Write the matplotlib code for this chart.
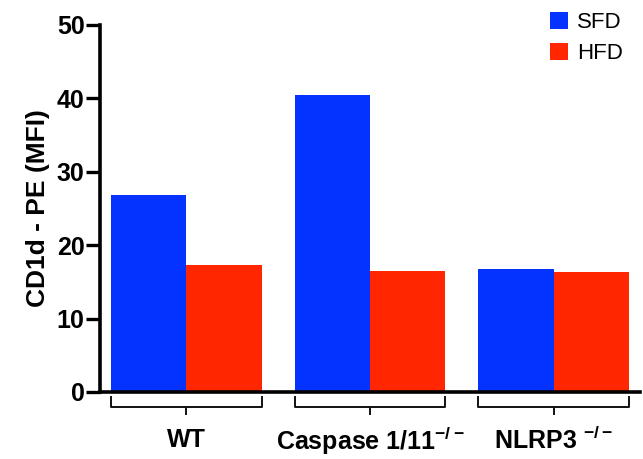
# imports
import numpy as np
import matplotlib
matplotlib.use("Agg")
import matplotlib.pyplot as plt

# data
groups = ["WT", "Caspase 1/11", "NLRP3 "]
sfd = [26.8, 40.4, 16.8]
hfd = [17.3, 16.5, 16.4]
series_names = ["SFD", "HFD"]
yticks = [0, 10, 20, 30, 40, 50]

plt.rcParams['font.family'] = ['Liberation Sans', 'DejaVu Sans']

fig = plt.figure(figsize=(6.43, 4.59), dpi=100)
ax = fig.add_axes([0.1555, 0.146, 0.84, 0.80])

x = np.arange(len(groups))
w = 0.41
ax.bar(x - w / 2, sfd, w, color="#0433FF", label=series_names[0])
ax.bar(x + w / 2, hfd, w, color="#FF2600", label=series_names[1])

ax.set_xlim(-0.47, 2.47)
ax.set_ylim(0, 50)
ax.set_yticks(yticks)
ax.tick_params(axis="y", width=2.4, length=10, labelsize=18, pad=1)
for lab in ax.get_yticklabels():
    lab.set_fontweight("bold")
ax.set_xticks([])

for side in ["top", "right"]:
    ax.spines[side].set_visible(False)
ax.spines["left"].set_linewidth(2.6)
ax.spines["bottom"].set_linewidth(2.6)

ax.set_ylabel("CD1d - PE (MFI)", fontsize=19, fontweight="bold", labelpad=5)

# group brackets under the axis
for xi, name in zip(x, groups):
    l, r = xi - w, xi + w
    ax.plot([l, l, r, r], [-0.7, -2.0, -2.0, -0.7], color="#111111", lw=1.4, clip_on=False)
    ax.plot([xi, xi], [-2.0, -3.0], color="#111111", lw=1.4, clip_on=False)

ax.text(x[0], -6.6, groups[0], ha="center", va="center", fontsize=18, fontweight="bold")
ax.text(x[1], -6.6, groups[1] + r"$^{\mathregular{-/-}}$", ha="center", va="center",
        fontsize=18, fontweight="bold")
ax.text(x[2], -6.6, groups[2] + r"$^{\mathregular{-/-}}$", ha="center", va="center",
        fontsize=18, fontweight="bold")

ax.legend(loc="upper right", bbox_to_anchor=(1.005, 1.09), frameon=False, fontsize=16,
          handlelength=0.8, handleheight=0.8, handletextpad=0.4, labelspacing=0.45)

fig.savefig("out.png", dpi=100)
